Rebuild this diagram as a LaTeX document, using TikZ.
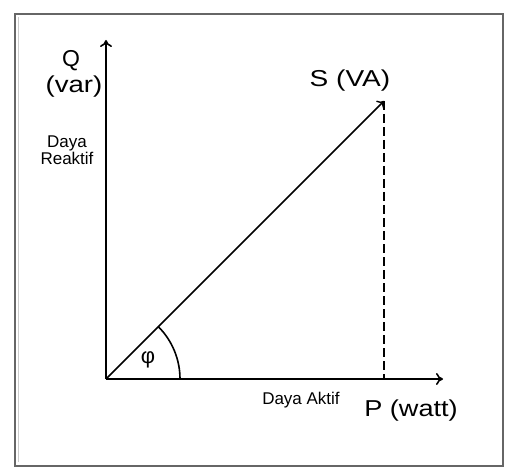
\documentclass[tikz,border=0pt]{standalone}
\usepackage{fontspec}
\setmainfont{Liberation Sans}
\usetikzlibrary{arrows.meta}
\begin{document}
\begin{tikzpicture}[x=1pt,y=-1pt,
  axis/.style={line width=2pt,-{To[length=7pt,width=12pt,line width=1.6pt]}},
  big/.style={inner sep=0pt,font=\fontsize{23}{25}\selectfont},
  small/.style={inner sep=0pt,font=\fontsize{17}{17}\selectfont,align=center},
]
\useasboundingbox (0,0) rectangle (508,470);
\draw[gray!80!black,line width=2.4pt] (15,14) rectangle (503,466);
\draw[gray!40,line width=1pt] (18.5,17.5) -- (18.5,462);
\coordinate (O) at (106,379);
\coordinate (Qtip) at (106,40);
\coordinate (Ptip) at (443,379);
\coordinate (S) at (384,101);
\coordinate (Sfoot) at (384,379);
\draw[axis] (O) -- (Qtip);
\draw[axis] (O) -- (Ptip);
\draw[line width=1.5pt,-{To[length=6pt,width=11pt,line width=1.4pt]}] (O) -- (S);
\draw[line width=1.8pt,dash pattern=on 9pt off 4pt] (S) -- (Sfoot);
\draw[line width=1.6pt] (180,379) arc[start angle=0,end angle=-45,radius=74];
\node[big] (q) at (71,61) {Q};
\node[big] (var) at (74,87) {\scalebox{1.2}[1]{(var)}};
\node[big] (s) at (350,81) {\scalebox{1.22}[1]{S (VA)}};
\node[big] (p) at (411,411) {\scalebox{1.18}[1]{P (watt)}};
\node[small] (dr) at (67,150) {Daya\\Reaktif};
\node[small] (da) at (301,400) {Daya Aktif};
\node[inner sep=0pt,font=\fontsize{22}{22}\selectfont] (phi) at (148,360) {φ};
\end{tikzpicture}
\end{document}
